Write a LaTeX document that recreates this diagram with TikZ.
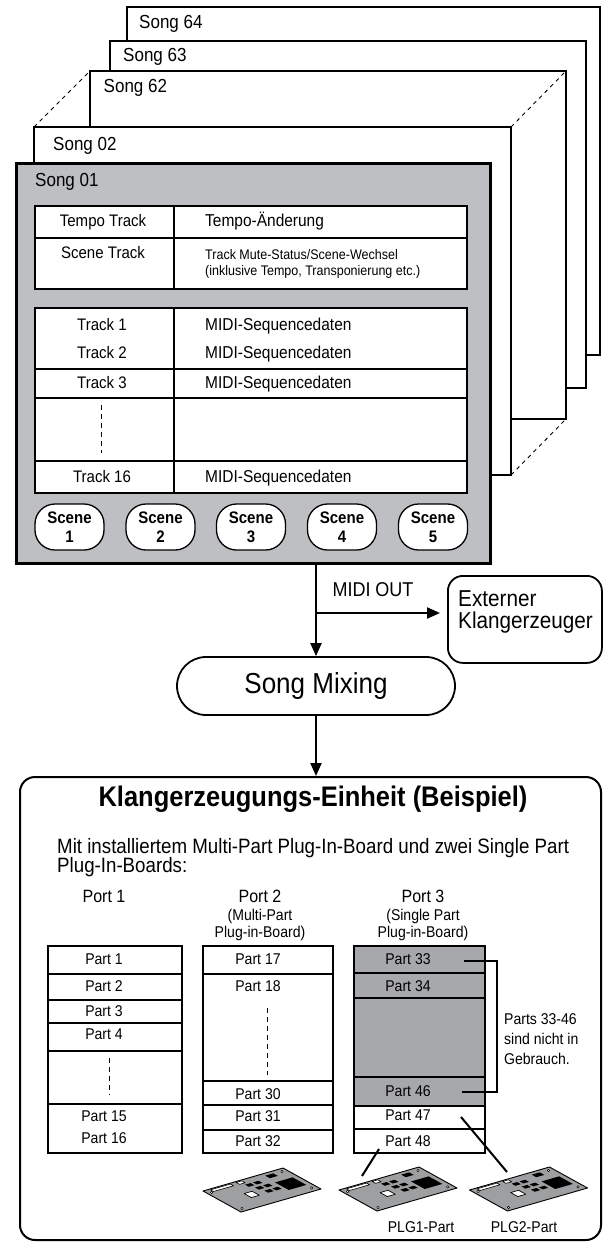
\documentclass[tikz,border=0pt]{standalone}
\usepackage{fontspec}
\setmainfont[FakeStretch=0.9]{Liberation Sans}
\usetikzlibrary{arrows.meta}
\definecolor{songgray}{RGB}{190,191,194}
\definecolor{unusedgray}{RGB}{167,168,171}
\definecolor{boardgray}{RGB}{158,159,161}

% font size with matching leading
\newcommand\fsz[1]{\fontsize{#1}{#1}\selectfont}
% quadrilateral in the board's own (skewed) coordinates
\newcommand\brdquad[5]{\path[#1] (#2,#3) -- (#4,#3) -- (#4,#5) -- (#2,#5) -- cycle;}

\tikzset{
  plugboard/.pic={
    \begin{scope}[x={(80pt,23pt)}, y={(38pt,-21pt)}, line join=round]
      \brdquad{draw, fill=boardgray, line width=0.9pt}{0}{0}{1}{1}
      % mounting holes
      \foreach \p in {(0.05,0.12),(0.94,0.1),(0.94,0.88),(0.06,0.9)}
        \draw[fill=white, line width=0.5pt] \p circle[radius=1.3pt];
      % edge connector and small parts
      \brdquad{draw, fill=white, line width=0.6pt}{0.08}{0.03}{0.33}{0.11}
      \brdquad{draw, fill=white, line width=0.6pt}{0.40}{0.03}{0.47}{0.12}
      \brdquad{fill=black}{0.74}{0.08}{0.84}{0.2}
      \brdquad{fill=black}{0.44}{0.18}{0.51}{0.28}
      \brdquad{fill=black}{0.54}{0.18}{0.61}{0.28}
      \brdquad{fill=black}{0.48}{0.36}{0.55}{0.46}
      \brdquad{fill=black}{0.58}{0.36}{0.65}{0.46}
      \brdquad{fill=black}{0.51}{0.54}{0.58}{0.64}
      \brdquad{fill=black}{0.61}{0.54}{0.68}{0.64}
      \brdquad{fill=black}{0.72}{0.38}{0.94}{0.74}
      \brdquad{draw, fill=white, line width=0.7pt}{0.30}{0.45}{0.40}{0.64}
    \end{scope}
  }
}

\begin{document}
\begin{tikzpicture}[x=1pt,y=-1pt,
  sheet/.style={draw, line width=1.3pt, fill=white, inner sep=0pt, outer sep=0pt, anchor=north west},
  grid/.style={line width=1.3pt},
  lbl/.style={inner sep=0pt, text height=0.72em, text depth=0pt},
  songlbl/.style={lbl, anchor=west, font=\fsz{18.9}},
  trk/.style={lbl, font=\fsz{16.7}},
  trkw/.style={lbl, anchor=west, font=\fsz{17.2}},
  small/.style={lbl, anchor=west, font=\fsz{13.9}},
  scenebtn/.style={draw, line width=1.3pt, fill=white, rounded corners=20pt,
    minimum width=69pt, minimum height=46pt, inner sep=0pt, align=center,
    font=\bfseries\fontsize{16.7}{19}\selectfont},
  arr/.style={line width=2.2pt, -{Triangle[length=13pt,width=11pt]}},
  part/.style={lbl, font=\fsz{15.6}},
  note/.style={lbl, anchor=west, font=\fsz{15.6}},
  port/.style={lbl, font=\fsz{17.8}},
  portsub/.style={lbl, font=\fsz{15.6}},
  lead/.style={line width=2pt},
]
\useasboundingbox (0,0) rectangle (604,1243);

% ---------- stack of songs ----------
\node[sheet, minimum width=473pt, minimum height=348pt] (s64) at (127,7) {};
\node[sheet, minimum width=476pt, minimum height=347pt] (s63) at (110,41) {};
\node[sheet, minimum width=476pt, minimum height=348pt] (s62) at (90,71) {};
\node[sheet, minimum width=477pt, minimum height=348pt] (s02) at (34,127) {};
\draw[line width=0.9pt, dash pattern=on 4pt off 4pt] (s02.north west) -- (s62.north west);
\draw[line width=0.9pt, dash pattern=on 4pt off 4pt] (s02.north east) -- (s62.north east);
\draw[line width=0.9pt, dash pattern=on 4pt off 4pt] (s02.south east) -- (s62.south east);
\node[sheet, fill=songgray, line width=3pt, minimum width=474pt, minimum height=400pt] (s01) at (16,163) {};

\node[songlbl] (t64) at (139,25) {Song 64};
\node[songlbl] (t63) at (123,58) {Song 63};
\node[songlbl] (t62) at (103.5,89) {Song 62};
\node[songlbl] (t02) at (53,147) {Song 02};
\node[songlbl] (t01) at (35,183) {Song 01};

% tempo / scene track table
\draw[grid, fill=white] (35,206) rectangle (467,289);
\draw[grid] (35,238) -- (467,238);
\draw[grid] (174,206) -- (174,289);
\node[trk] (tt) at (103,223) {Tempo Track};
\node[trkw] (tc) at (205,223) {Tempo-Änderung};
\node[trk] (st) at (103,255) {Scene Track};
\node[small] (sc1l) at (205,256) {Track Mute-Status/Scene-Wechsel};
\node[small] (sc2l) at (205,272) {(inklusive Tempo, Transponierung etc.)};

% sequence track table
\draw[grid, fill=white] (35,308) rectangle (467,493);
\draw[grid] (35,369) -- (467,369);
\draw[grid] (35,398) -- (467,398);
\draw[grid] (35,461) -- (467,461);
\draw[grid] (174,308) -- (174,493);
\node[trk] (tr1) at (102,327) {Track 1};
\node[trk] (tr2) at (102,355) {Track 2};
\node[trk] (tr3) at (102,385) {Track 3};
\node[trk] (tr16) at (102,479) {Track 16};
\node[trkw] (md1) at (205,327) {MIDI-Sequencedaten};
\node[trkw] (md2) at (205,355) {MIDI-Sequencedaten};
\node[trkw] (md3) at (205,385) {MIDI-Sequencedaten};
\node[trkw] (md16) at (205,479) {MIDI-Sequencedaten};
\draw[line width=1pt, dash pattern=on 5pt off 4pt] (101,405) -- (101,453);

% scene buttons
\node[scenebtn] (scn1) at (69.5,527) {Scene\\1};
\node[scenebtn] (scn2) at (160.5,527) {Scene\\2};
\node[scenebtn] (scn3) at (251,527) {Scene\\3};
\node[scenebtn] (scn4) at (342,527) {Scene\\4};
\node[scenebtn] (scn5) at (433,527) {Scene\\5};

% ---------- signal flow ----------
\node[draw, line width=1.8pt, rounded corners=29pt, minimum width=278pt, minimum height=58pt,
      inner sep=0pt, font=\fsz{28.9}] (mix) at (316,686) {Song Mixing};
\node[draw, line width=1.8pt, rounded corners=15pt, minimum width=154pt, minimum height=87pt,
      inner sep=0pt, anchor=north west] (ext) at (447,575) {};
\node[lbl, anchor=west, font=\fsz{23}] (ext1) at (458,603) {Externer};
\node[lbl, anchor=west, font=\fsz{23}] (ext2) at (458,625) {Klangerzeuger};
\node[draw, line width=2pt, rounded corners=15pt, minimum width=581pt, minimum height=463pt,
      inner sep=0pt, anchor=north west] (unit) at (19,776) {};

\coordinate (out) at (316,563);
\coordinate (split) at (316,613);
\draw[arr] (out) -- (out |- mix.north);
\draw[arr, shorten >=7pt] (split) -- (split -| ext.west);
\node[lbl, font=\fsz{20}] (midiout) at (373,593) {MIDI OUT};
\draw[arr] (mix.south -| out) -- (unit.north -| out);

% ---------- tone generator ----------
\node[lbl, font=\bfseries\fsz{28.3}] (title) at (313,803) {Klangerzeugungs-Einheit (Beispiel)};
\node[lbl, anchor=west, font=\fsz{20.8}] (desc1) at (57,850) {Mit installiertem Multi-Part Plug-In-Board und zwei Single Part};
\node[lbl, anchor=west, font=\fsz{20.8}] (desc2) at (57,869) {Plug-In-Boards:};

\node[port] (port1) at (104,899) {Port 1};
\node[port] (port2) at (260,899) {Port 2};
\node[portsub] (port2a) at (260,917) {(Multi-Part};
\node[portsub] (port2b) at (260,934) {Plug-in-Board)};
\node[port] (port3) at (423,899) {Port 3};
\node[portsub] (port3a) at (423,917) {(Single Part};
\node[portsub] (port3b) at (423,934) {Plug-in-Board)};

% port 1 parts
\draw[line width=1.2pt, fill=white] (48,946) rectangle (182,1153);
\foreach \yy in {974,1000,1023,1051,1104} \draw[line width=1.2pt] (48,\yy) -- (182,\yy);
\node[part] (pt1) at (104,961) {Part 1};
\node[part] (pt2) at (104,988) {Part 2};
\node[part] (pt3) at (104,1013) {Part 3};
\node[part] (pt4) at (104,1036) {Part 4};
\draw[line width=1pt, dash pattern=on 5pt off 4pt] (109,1058) -- (109,1095);
\node[part] (pt15) at (104,1118) {Part 15};
\node[part] (pt16) at (104,1140) {Part 16};

% port 2 parts
\draw[line width=1.2pt, fill=white] (203,946) rectangle (333,1153);
\foreach \yy in {974,1081,1105,1130} \draw[line width=1.2pt] (203,\yy) -- (333,\yy);
\node[part] (pt17) at (258,961) {Part 17};
\node[part] (pt18) at (258,988) {Part 18};
\draw[line width=1pt, dash pattern=on 5pt off 4pt] (267,1008) -- (267,1075);
\node[part] (pt30) at (258,1096) {Part 30};
\node[part] (pt31) at (258,1118) {Part 31};
\node[part] (pt32) at (258,1143) {Part 32};

% port 3 parts
\fill[unusedgray] (354,946) rectangle (485,1106);
\draw[line width=1.2pt] (354,946) rectangle (485,1153);
\foreach \yy in {973,998,1077,1106,1129} \draw[line width=1.2pt] (354,\yy) -- (485,\yy);
\node[part] (pt33) at (408,961) {Part 33};
\node[part] (pt34) at (408,988) {Part 34};
\node[part] (pt46) at (408,1093) {Part 46};
\node[part] (pt47) at (408,1117) {Part 47};
\node[part] (pt48) at (408,1143) {Part 48};

% unused range bracket
\coordinate (b33) at (464,961);
\coordinate (b46) at (462,1092);
\draw[lead, line join=miter] (b33) -- ++(33,0) |- (b46);
\node[note] (nt1) at (504,1021) {Parts 33-46};
\node[note] (nt2) at (504,1041) {sind nicht in};
\node[note] (nt3) at (504,1061) {Gebrauch.};

% plug-in boards
\pic (brd1) at (203,1191) {plugboard};
\pic (brd2) at (339,1190) {plugboard};
\pic (brd3) at (469.5,1190) {plugboard};
\coordinate (p48lead) at (379,1149);
\coordinate (plg1lead) at (362,1176);
\coordinate (p47lead) at (461,1117);
\coordinate (plg2lead) at (507,1172);
\draw[lead] (p48lead) -- (plg1lead);
\draw[lead] (p47lead) -- (plg2lead);
\node[part] (plg1) at (421,1229) {PLG1-Part};
\node[part] (plg2) at (524,1229) {PLG2-Part};
\end{tikzpicture}
\end{document}
